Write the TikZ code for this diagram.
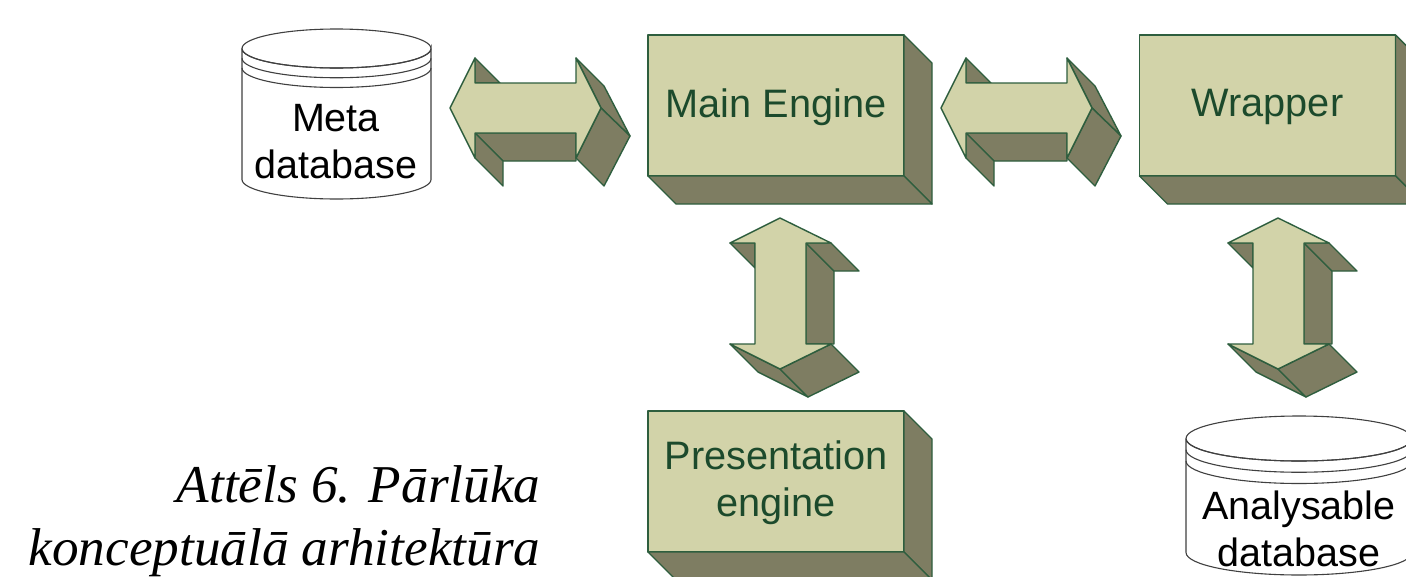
\documentclass[tikz,border=0pt]{standalone}
\usepackage{fontspec}
\setmainfont{Liberation Sans}
\newfontfamily\captionfont{Liberation Serif}
\definecolor{boxfront}{HTML}{D2D3A9}
\definecolor{boxside}{HTML}{7E7D62}
\definecolor{boxline}{HTML}{2E5E3E}
\definecolor{boxtext}{HTML}{1C4A2C}
\tikzset{
  front/.style={fill=boxfront, draw=boxline, line width=1.4pt, line join=round},
  side/.style={fill=boxside, draw=boxline, line width=1.4pt, line join=round},
  enginebox/.style={front, outer sep=0pt, inner sep=0pt, minimum width=256pt, minimum height=141pt},
  enginetext/.style={align=center, text=boxtext, font=\fontsize{39.7}{47}\selectfont},
  dbline/.style={draw=black!75, line width=1.1pt},
  dbtext/.style={align=center, text=black, font=\fontsize{39.5}{47}\selectfont},
  harrow/.pic={
    \draw[side] (25,-50) -- (50,-25) -- (25,-25) -- cycle;
    \draw[side] (25,25) -- (126,25) -- (126,53) -- (53,53) -- cycle;
    \draw[side] (25,25) -- (25,50) -- (53,78) -- (53,53) -- cycle;
    \draw[side] (126,-50) -- (154,-22) -- (180,28) -- (151,0) -- cycle;
    \draw[side] (151,0) -- (180,28) -- (154,78) -- (126,50) -- cycle;
    \draw[front] (0,0) -- (25,-50) -- (25,-25) -- (126,-25) -- (126,-50) -- (151,0)
      -- (126,50) -- (126,25) -- (25,25) -- (25,50) -- cycle;
  },
  varrow/.pic={
    \draw[side] (-50,25) -- (-25,25) -- (-25,50) -- cycle;
    \draw[side] (26,25) -- (54,53) -- (54,126) -- (26,126) -- cycle;
    \draw[side] (26,25) -- (51,25) -- (79,53) -- (54,53) -- cycle;
    \draw[side] (-50,126) -- (0,151) -- (28,179) -- (-22,154) -- cycle;
    \draw[side] (0,151) -- (51,126) -- (79,154) -- (28,179) -- cycle;
    \draw[front] (0,0) -- (-50,25) -- (-25,25) -- (-25,126) -- (-50,126) -- (0,151)
      -- (51,126) -- (26,126) -- (26,25) -- (51,25) -- cycle;
  },
}
% box sides, depth 28 down and to the right
\newcommand{\boxsides}[1]{
  \draw[side] (#1.north east) -- ++(28,28) -- ++(0,141) -- (#1.south east) -- cycle;
  \draw[side] (#1.south west) -- (#1.south east) -- ++(28,28) -- ++(-256,0) -- cycle;
}
% #1 centre x, #2 top ellipse y, #3 half width, #4 half height, #5 height of the side
\newcommand{\database}[5]{
  \draw[dbline, fill=white] (#1-#3,#2) -- ++(0,#5) arc[start angle=180, end angle=360, x radius=#3, y radius=-#4]
    -- ++(0,-#5) arc[start angle=0, end angle=360, x radius=#3, y radius=#4];
  \draw[dbline] (#1-#3,#2) arc[start angle=180, end angle=360, x radius=#3, y radius=-#4];
  \draw[dbline] (#1-#3,#2+#4/2) arc[start angle=180, end angle=360, x radius=#3, y radius=-#4];
  \draw[dbline] (#1-#3,#2+#4) arc[start angle=180, end angle=360, x radius=#3, y radius=-#4];
}
\begin{document}
\begin{tikzpicture}[x=1pt, y=-1pt]

  \useasboundingbox (0,0) rectangle (1406,576);

  \node[enginebox] (main) at (776,105.5) {};
  \node[enginetext] (maintext) at (776,107) {Main Engine};
  \boxsides{main}

  \node[enginebox] (wrapper) at (1267.5,105.5) {};
  \node[enginetext] (wrappertext) at (1267.5,107) {Wrapper};
  \boxsides{wrapper}

  \node[enginebox] (presentation) at (776,481.5) {};
  \node[enginetext] (presentationtext) at (776,483) {Presentation\\engine};
  \boxsides{presentation}

  \pic at (450,108) {harrow};
  \pic at (941,108) {harrow};
  \pic at (780,218) {varrow};
  \pic at (1278,218) {varrow};

  \database{336.5}{48.5}{94.5}{19.5}{131}
  \node[dbtext] (meta) at (336,141.5) {Meta\\database};

  \database{1299}{438.5}{113}{22.5}{114}
  \node[dbtext] (analysable) at (1299,529) {Analysable\\database};

  \node[anchor=north east, align=right, inner sep=0pt, font=\captionfont\itshape\fontsize{53.2}{63}\selectfont]
    (attels) at (540.5,465.5) {Attēls 6. Pārlūka\\konceptuālā arhitektūra};

\end{tikzpicture}
\end{document}
